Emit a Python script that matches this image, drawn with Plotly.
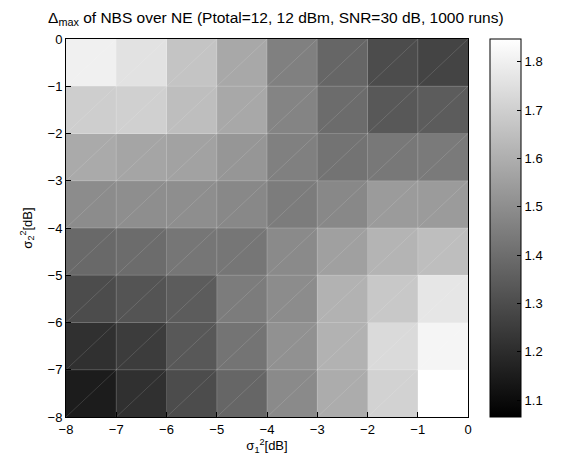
import plotly.graph_objects as go

# Cell centres (dB)
sigma1 = [-7.5, -6.5, -5.5, -4.5, -3.5, -2.5, -1.5, -0.5]
sigma2 = [-7.5, -6.5, -5.5, -4.5, -3.5, -2.5, -1.5, -0.5]
edges = [-8, -7, -6, -5, -4, -3, -2, -1, 0]

# Delta_max values, rows ordered by sigma2 (bottom -> top)
row_m7_5 = [1.151, 1.212, 1.298, 1.378, 1.488, 1.592, 1.709, 1.847]
row_m6_5 = [1.212, 1.249, 1.335, 1.421, 1.510, 1.611, 1.734, 1.816]
row_m5_5 = [1.298, 1.323, 1.347, 1.445, 1.494, 1.611, 1.678, 1.770]
row_m4_5 = [1.387, 1.396, 1.427, 1.427, 1.488, 1.556, 1.617, 1.648]
row_m3_5 = [1.494, 1.500, 1.500, 1.482, 1.445, 1.482, 1.540, 1.540]
row_m2_5 = [1.586, 1.571, 1.562, 1.525, 1.458, 1.418, 1.433, 1.439]
row_m1_5 = [1.697, 1.703, 1.648, 1.580, 1.470, 1.396, 1.335, 1.347]
row_m0_5 = [1.801, 1.758, 1.666, 1.580, 1.458, 1.378, 1.298, 1.274]
z = [row_m7_5, row_m6_5, row_m5_5, row_m4_5, row_m3_5, row_m2_5, row_m1_5, row_m0_5]

zmin, zmax = 1.065, 1.847
cbar_ticks = [1.1, 1.2, 1.3, 1.4, 1.5, 1.6, 1.7, 1.8]
axis_ticks = [-8, -7, -6, -5, -4, -3, -2, -1, 0]

font = dict(family="Liberation Sans, Arial, sans-serif", size=13, color="black")
title_font = dict(family="Liberation Sans, Arial, sans-serif", size=15.5, color="black")

fig = go.Figure()
fig.add_trace(go.Heatmap(
    x=sigma1, y=sigma2, z=z, zmin=zmin, zmax=zmax,
    colorscale=[[0, "rgb(0,0,0)"], [1, "rgb(255,255,255)"]],
    hoverinfo="skip",
    colorbar=dict(
        x=1.0547, xanchor="left", xpad=0, y=0, yanchor="bottom", ypad=0,
        len=1, lenmode="fraction", thickness=31, thicknessmode="pixels",
        outlinecolor="black", outlinewidth=1,
        tickvals=cbar_ticks, ticktext=[f"{t:.1f}" for t in cbar_ticks],
        ticks="inside", ticklen=4, tickcolor="black",
        tickfont=font,
    ),
))

# faint cell edges
gx, gy = [], []
lo, hi = edges[0], edges[-1]
for e in edges[1:-1]:
    gx += [e, e, None, lo, hi, None]
    gy += [lo, hi, None, e, e, None]
fig.add_trace(go.Scatter(x=gx, y=gy, mode="lines", hoverinfo="skip",
                         line=dict(color="rgba(255,255,255,0.2)", width=1),
                         showlegend=False))
# faint diagonals (rendering triangulation)
dx, dy = [], []
for k in range(-7, 8):
    x0 = max(lo, lo - k)
    x1 = min(hi, hi - k)
    dx += [x0, x1, None]
    dy += [x0 + k, x1 + k, None]
fig.add_trace(go.Scatter(x=dx, y=dy, mode="lines", hoverinfo="skip",
                         line=dict(color="rgba(255,255,255,0.2)", width=0.7),
                         showlegend=False))

fig.update_layout(
    width=561, height=461,
    margin=dict(l=66, r=93, t=39, b=44),
    paper_bgcolor="white", plot_bgcolor="white",
    font=font,
    showlegend=False,
    title=dict(text="Δ<sub>max</sub> of NBS over NE (Ptotal=12, 12 dBm, SNR=30 dB, 1000 runs)",
               x=0.522, xref="paper", xanchor="center", y=1, yref="paper",
               yanchor="bottom", pad=dict(b=16), font=title_font),
    xaxis=dict(range=[lo, hi], tickvals=axis_ticks, ticks="inside", ticklen=5,
               tickcolor="black", showline=True, linecolor="black", mirror=True,
               showgrid=False, zeroline=False, tickfont=font,
               title=dict(text="σ<sub>1</sub><sup>2</sup>[dB]", font=font, standoff=2)),
    yaxis=dict(range=[lo, hi], tickvals=axis_ticks, ticks="inside", ticklen=5,
               tickcolor="black", showline=True, linecolor="black", mirror=True,
               showgrid=False, zeroline=False, tickfont=font,
               title=dict(text="σ<sub>2</sub><sup>2</sup>[dB]", font=font, standoff=12)),
)

# remove the default page margin so the figure sits at the window's corner
fig.write_html("out.html",
               config={"displayModeBar": False},
               post_script="document.body.style.margin='0';document.body.style.overflow='hidden';")
